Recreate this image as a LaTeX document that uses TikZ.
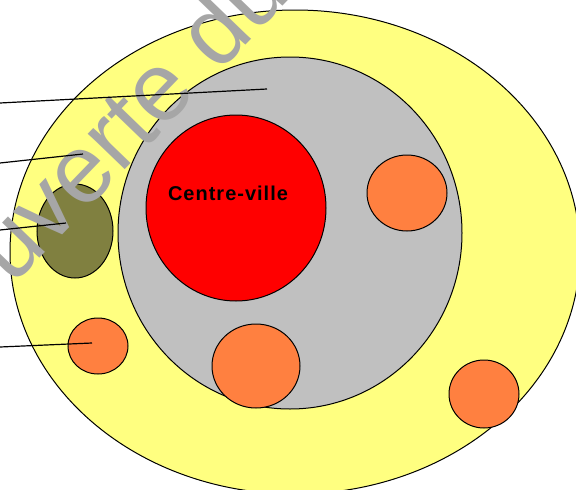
\documentclass[tikz,border=0pt]{standalone}
\usepackage{fontspec}
\setmainfont{Liberation Sans}
\usetikzlibrary{shapes.geometric}
\definecolor{zyellow}{HTML}{FFFF80}
\definecolor{zgray}{HTML}{C0C0C0}
\definecolor{zred}{HTML}{FF0000}
\definecolor{zorange}{HTML}{FF8040}
\definecolor{zolive}{HTML}{808040}
\definecolor{zmark}{HTML}{A6A6A6}
\tikzset{
  zone/.style={ellipse, draw=black, line width=1pt, inner sep=0pt, outer sep=0pt},
  leader/.style={draw=black, line width=1.2pt},
}
\begin{document}
\begin{tikzpicture}[x=1pt,y=-1pt]
\useasboundingbox (0,0) rectangle (576,490);
\clip (0,0) rectangle (576,490);
\node[zone, fill=zyellow, minimum width=570, minimum height=484] (outer) at (295,252) {};
\node[zone, fill=zgray, minimum width=344, minimum height=352] (inner) at (290,233) {};
\node[zone, fill=zred, minimum width=180, minimum height=186] (centre) at (236,208) {};
\node[font=\bfseries\fontsize{20}{24}\selectfont\addfontfeature{LetterSpace=5}] (label) at (228,193) {Centre-ville};
\node[zone, fill=zorange, minimum width=80, minimum height=76] (o1) at (407,193) {};
\node[zone, fill=zorange, minimum width=88, minimum height=84] (o2) at (256,366) {};
\node[zone, fill=zorange, minimum width=70, minimum height=68] (o3) at (484,394) {};
\node[zone, fill=zorange, minimum width=60, minimum height=56] (o4) at (98,346) {};
\node[zone, fill=zolive, minimum width=76, minimum height=94] (ol) at (75,231) {};
\node[text=zmark, font=\fontsize{97}{100}\selectfont, rotate=46, anchor=base west, inner sep=0pt] (mark) at (12,287) {uverte du};
\coordinate (s1) at (0,103); \coordinate (e1) at (267,89);
\coordinate (s2) at (0,163); \coordinate (e2) at (83,154);
\coordinate (s3) at (0,230); \coordinate (e3) at (66,223);
\coordinate (s4) at (0,347); \coordinate (e4) at (92,343);
\draw[leader] (s1) -- (e1);
\draw[leader] (s2) -- (e2);
\draw[leader] (s3) -- (e3);
\draw[leader] (s4) -- (e4);
\end{tikzpicture}
\end{document}
